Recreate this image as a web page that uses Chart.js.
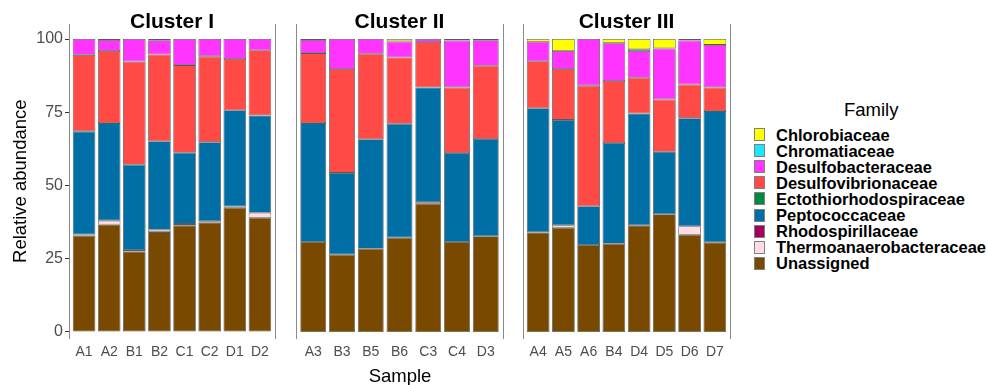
<!DOCTYPE html>
<html>
<head>
<meta charset="utf-8">
<script src="https://cdn.jsdelivr.net/npm/chart.js@4.4.1/dist/chart.umd.min.js"></script>
<style>
  body { margin: 0; width: 988px; height: 385px; position: relative; background: #fff; overflow: hidden;
         font-family: "Liberation Sans", Arial, sans-serif; }
  canvas { position: absolute; top: 0; }
  .strip { position: absolute; top: 10px; width: 200px; height: 21px; line-height: 21px; text-align: center;
           font-size: 21px; font-weight: bold; color: #000; }
  #xtitle { position: absolute; left: 300px; width: 200px; top: 367px; line-height: 18.5px; text-align: center;
            font-size: 18.5px; color: #000; }
  #legtitle { position: absolute; left: 844px; top: 101px; font-size: 18.5px; line-height: 18.5px; color: #000; }
  .key { position: absolute; left: 754px; width: 11px; height: 13px; border: 1px solid #808080; box-sizing: border-box; }
  .lab { position: absolute; left: 776px; height: 16px; line-height: 16px; font-size: 16.5px; font-weight: bold; color: #000; white-space: nowrap; }
</style>
</head>
<body>
<canvas id="p1" width="280" height="385" style="left:0px"></canvas>
<canvas id="p2" width="225" height="385" style="left:285px"></canvas>
<canvas id="p3" width="225" height="385" style="left:512px"></canvas>
<div class="strip" style="left:72px">Cluster I</div>
<div class="strip" style="left:299.5px">Cluster II</div>
<div class="strip" style="left:526.5px">Cluster III</div>
<div id="xtitle">Sample</div>
<div id="legtitle">Family</div>
<div id="legend"></div>
<script>
const clusters = ['Cluster I', 'Cluster II', 'Cluster III'];
const samplesI = ['A1', 'A2', 'B1', 'B2', 'C1', 'C2', 'D1', 'D2'];
const samplesII = ['A3', 'B3', 'B5', 'B6', 'C3', 'C4', 'D3'];
const samplesIII = ['A4', 'A5', 'A6', 'B4', 'D4', 'D5', 'D6', 'D7'];
const yTicks = [0, 25, 50, 75, 100];

const families = ['Chlorobiaceae', 'Chromatiaceae', 'Desulfobacteraceae', 'Desulfovibrionaceae',
  'Ectothiorhodospiraceae', 'Peptococcaceae', 'Rhodospirillaceae', 'Thermoanaerobacteraceae', 'Unassigned'];
const familyColors = ['#FFFF00', '#1CE6FF', '#FF34FF', '#FF4A46', '#008941', '#006FA6', '#A30059', '#FFDBE5', '#7A4900'];

// relative abundance (%), samples in order Cluster I, II, III
const chlorobiaceae =          [0, 0.3, 0, 0.4, 0, 0, 0, 0,   0.3, 0, 0, 0.8, 0, 0.5, 0.4,   0.9, 4.1, 0, 1.4, 3.5, 3.2, 0.5, 2.0];
const chromatiaceae =          [0, 0, 0, 0, 0, 0, 0, 0,       0, 0, 0, 0, 0, 0, 0,           0, 0, 0, 0, 0.6, 0, 0, 0];
const desulfobacteraceae =     [5.4, 3.8, 7.7, 4.9, 8.9, 5.9, 6.8, 3.8,   4.5, 10.2, 5.0, 5.5, 1.0, 16.0, 8.7,   6.7, 6.1, 15.9, 12.9, 9.1, 17.4, 15.0, 14.5];
const desulfovibrionaceae =    [26.1, 24.6, 35.2, 29.6, 29.9, 29.3, 17.5, 22.3,   23.9, 35.5, 29.2, 22.6, 15.5, 22.4, 25.0,   16.0, 17.4, 41.2, 21.2, 12.2, 17.9, 11.5, 8.1];
const ectothiorhodospiraceae = [0, 0, 0, 0, 0, 0, 0, 0,       0, 0, 0, 0, 0, 0, 0,           0, 0, 0, 0, 0, 0, 0, 0];
const peptococcaceae =         [35.2, 33.3, 29.1, 30.2, 24.3, 27.0, 32.9, 33.2,   40.6, 27.9, 37.4, 38.9, 39.1, 30.4, 33.2,   42.4, 36.0, 13.2, 34.4, 38.2, 21.3, 36.9, 44.8];
const rhodospirillaceae =      [0, 0, 0, 0, 0, 0, 0, 0,       0, 0, 0, 0, 0, 0, 0,           0, 0, 0, 0, 0, 0, 0, 0];
const thermoanaerobacteraceae = [0.4, 1.3, 0.5, 0.8, 0.5, 0.4, 0.4, 1.7,   0, 0, 0, 0, 0.6, 0, 0,   0, 0.8, 0, 0, 0, 0, 2.9, 0];
const unassigned =             [32.9, 36.7, 27.5, 34.1, 36.4, 37.4, 42.4, 39.0,   30.7, 26.4, 28.4, 32.2, 43.8, 30.7, 32.7,   34.0, 35.6, 29.7, 30.1, 36.4, 40.2, 33.2, 30.6];

const familyValues = [chlorobiaceae, chromatiaceae, desulfobacteraceae, desulfovibrionaceae,
  ectothiorhodospiraceae, peptococcaceae, rhodospirillaceae, thermoanaerobacteraceae, unassigned];

const panels = [samplesI, samplesII, samplesIII];
const canvasIds = ['p1', 'p2', 'p3'];
const lineColor = '#8a8a8a';

let offset = 0;
panels.forEach(function (samples, p) {
    const n = samples.length;
    var datasets = [];
    // ggplot stacks the first level on top, so go bottom-up
    for (var f = families.length - 1; f >= 0; f--) {
        datasets.push({
            label: families[f],
            data: familyValues[f].slice(offset, offset + n).map((v, i) => ({ x: i, y: v || null })),
            backgroundColor: familyColors[f],
            borderColor: 'rgba(60,60,60,0.85)',
            borderWidth: 0.8,
            borderSkipped: false,
            barPercentage: 0.9,
            categoryPercentage: 1
        });
    }
    offset += n;

    const first = p === 0;
    new Chart(document.getElementById(canvasIds[p]), {
        type: 'bar',
        data: { datasets: datasets },
        options: {
            responsive: false,
            animation: false,
            devicePixelRatio: 1,
            layout: { padding: { top: 24.4, right: first ? 5 : 7, left: 0, bottom: 0 } },
            plugins: { legend: { display: false }, tooltip: { enabled: false } },
            scales: {
                x: {
                    type: 'linear',
                    offset: false,
                    stacked: true,
                    min: -0.6,
                    max: n - 0.4,
                    afterBuildTicks: s => { s.ticks = samples.map((_, i) => ({ value: i })); },
                    afterFit: s => { s.height = 47; },
                    ticks: {
                        callback: v => samples[v],
                        color: '#4d4d4d',
                        font: { family: 'Liberation Sans', size: 14 },
                        padding: 6,
                        autoSkip: false,
                        maxRotation: 0
                    },
                    grid: { display: false, drawTicks: false, offset: false },
                    border: { display: false }
                },
                y: {
                    stacked: true,
                    position: 'left',
                    min: -2.05,
                    max: 105,
                    afterBuildTicks: s => { s.ticks = yTicks.map(v => ({ value: v })); },
                    afterFit: s => { s.width = first ? 69 : 11; },
                    ticks: {
                        display: first,
                        color: '#4d4d4d',
                        font: { family: 'Liberation Sans', size: 16 },
                        padding: 2
                    },
                    grid: { display: first, drawOnChartArea: false, drawTicks: first, tickLength: 4, color: '#333' },
                    border: { display: true, color: lineColor, width: 1 },
                    title: {
                        display: first,
                        text: 'Relative abundance',
                        color: '#000',
                        font: { family: 'Liberation Sans', size: 18.5 },
                        padding: { top: 10, bottom: 0 }
                    }
                },
                y2: {
                    position: 'right',
                    afterFit: s => { s.width = 0; },
                    ticks: { display: false },
                    grid: { display: false, drawTicks: false },
                    border: { display: true, color: lineColor, width: 1 }
                }
            }
        }
    });
});

// legend
const legend = document.getElementById('legend');
families.forEach(function (name, i) {
    const top = 128.3 + i * 16.04;
    const key = document.createElement('div');
    key.className = 'key';
    key.style.top = top + 'px';
    key.style.background = familyColors[i];
    legend.appendChild(key);
    const lab = document.createElement('div');
    lab.className = 'lab';
    lab.style.top = (top - 1.5) + 'px';
    lab.textContent = name;
    legend.appendChild(lab);
});
</script>
</body>
</html>
